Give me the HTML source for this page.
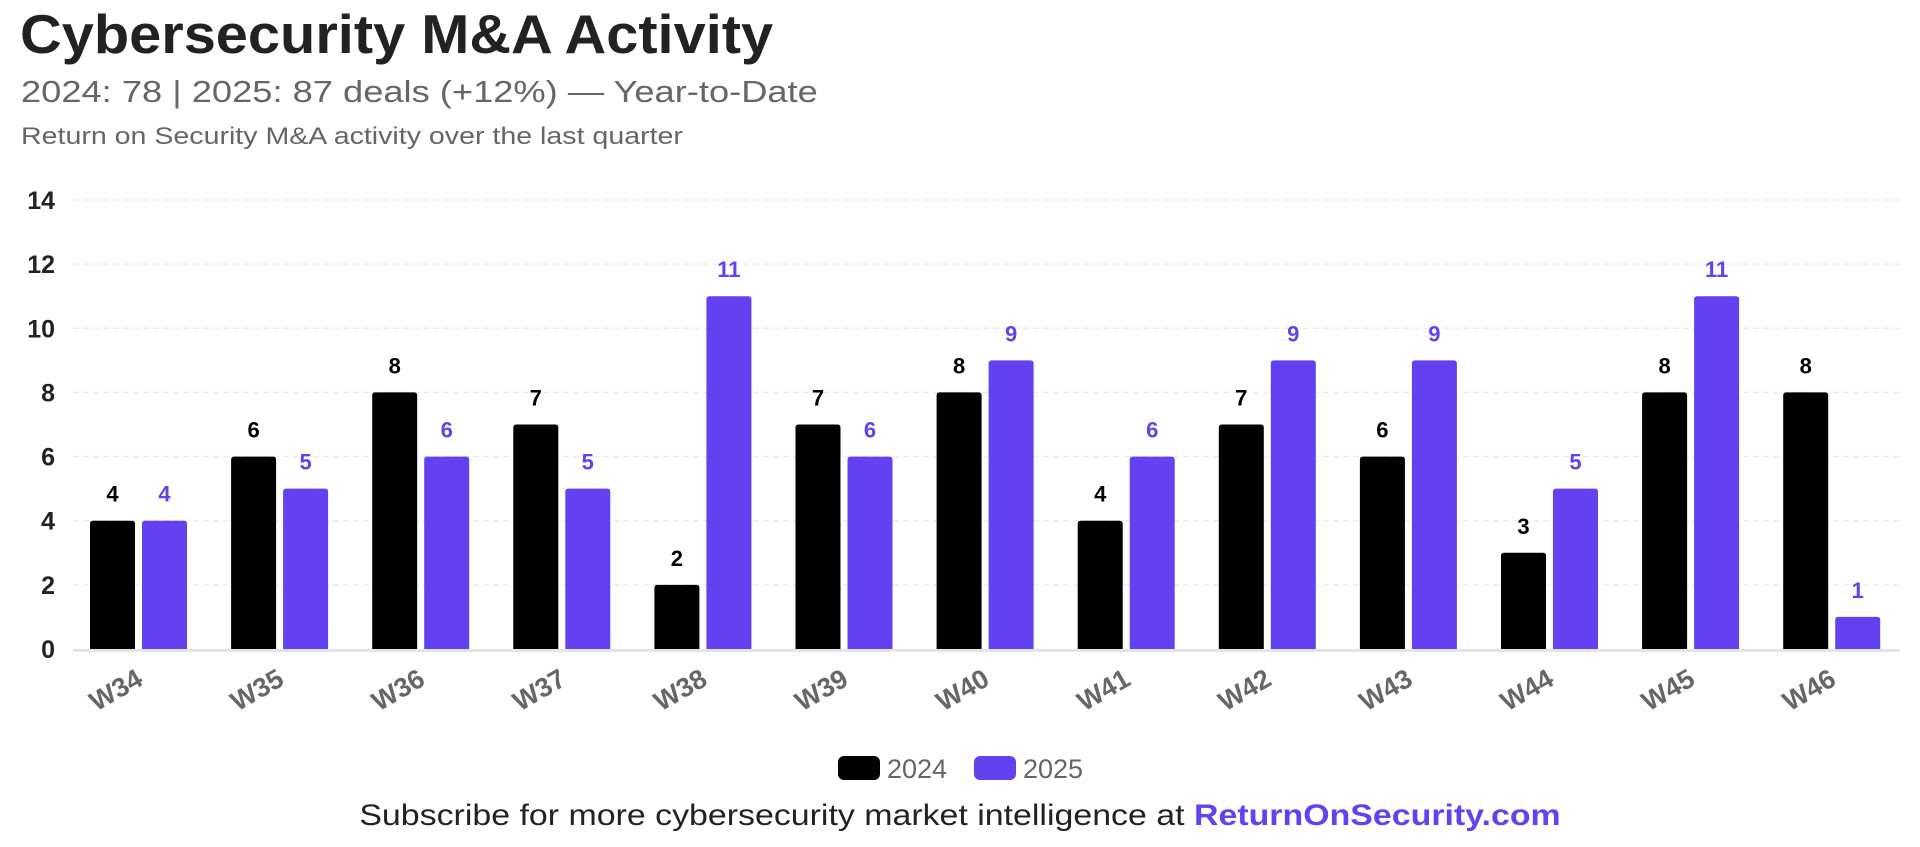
<!DOCTYPE html>
<html><head><meta charset="utf-8">
<style>
html,body{margin:0;padding:0;background:#fff;width:1920px;height:847px;overflow:hidden;font-family:"Liberation Sans",Arial,sans-serif}
.t{position:absolute;left:20px;top:2px;font-size:55px;font-weight:bold;color:#222;transform:scaleX(1.05);transform-origin:0 0;white-space:nowrap}
.s{position:absolute;left:21px;top:74px;font-size:31px;color:#666;transform:scaleX(1.17);transform-origin:0 0;white-space:nowrap}
.d{position:absolute;left:21px;top:123px;font-size:24px;color:#666;transform:scaleX(1.19);transform-origin:0 0;white-space:nowrap}
.f{position:absolute;left:0;width:1920px;top:799px;text-align:center;font-size:30px;color:#222;transform:scaleX(1.13);transform-origin:960px 0;white-space:nowrap}
.f b{color:#6341F0}
</style></head><body>
<div class="t">Cybersecurity M&amp;A Activity</div>
<div class="s">2024: 78 | 2025: 87 deals (+12%) — Year-to-Date</div>
<div class="d">Return on Security M&amp;A activity over the last quarter</div>
<svg id="c" width="1920" height="847" style="position:absolute;left:0;top:0"></svg>
<div class="f">Subscribe for more cybersecurity market intelligence at <b>ReturnOnSecurity.com</b></div>
<script>
const categories=["W34","W35","W36","W37","W38","W39","W40","W41","W42","W43","W44","W45","W46"];
const values2024=[4,6,8,7,2,7,8,4,7,6,3,8,8];
const values2025=[4,5,6,5,11,6,9,6,9,9,5,11,1];
const yTicks=[0,2,4,6,8,10,12,14];
const seriesNames=["2024","2025"];
const colors=["#000000","#6341F0"];
const NS="http://www.w3.org/2000/svg";
const svg=document.getElementById('c');
const y0=649,yTop=200,yMax=14,left=73,right=1900,x0=138.5,step=141.1,bw=45,gap=7;
function y(v){return y0-(v/yMax)*(y0-yTop);}
function xc(i){return x0+i*step;}
function mk(tag,attrs,txt){const e=document.createElementNS(NS,tag);for(const k in attrs)e.setAttribute(k,attrs[k]);if(txt!=null)e.textContent=txt;svg.appendChild(e);return e;}
yTicks.forEach(t=>{
  if(t>0){const g=mk('line',{x1:left,x2:right,y1:y(t),y2:y(t),stroke:'#ececec','stroke-width':1.5,'stroke-dasharray':'6 4'});
  
  }
  const l=mk('text',{x:55,y:y(t)+9,'text-anchor':'end','font-size':25,'font-weight':'bold',fill:'#222'},t);
  
  
});
const ax=mk('line',{x1:left,x2:right,y1:y0+1.5,y2:y0+1.5,stroke:'#e3e3ea','stroke-width':3});


[values2024,values2025].forEach((vals,s)=>{
  vals.forEach((v,i)=>{
    const bx=s===0?xc(i)-gap/2-bw:xc(i)+gap/2;
    const r=mk('path',{d:`M${bx},${y0} V${y(v)+3} Q${bx},${y(v)} ${bx+3},${y(v)} H${bx+bw-3} Q${bx+bw},${y(v)} ${bx+bw},${y(v)+3} V${y0} Z`,fill:colors[s]});
    
    
    const t=mk('text',{x:bx+bw/2,y:y(v)-19,'text-anchor':'middle','font-size':22,'font-weight':'bold',fill:colors[s]},v);
    
    
  });
});
categories.forEach((c,i)=>{
  const t=mk('text',{x:xc(i)+6,y:684,'text-anchor':'end','font-size':27,'font-weight':'bold',fill:'#666',transform:`rotate(-30 ${xc(i)+6} 684)`},c);
  
  
});
const lx=[838,974];
seriesNames.forEach((n,s)=>{
  const r=mk('rect',{x:lx[s],y:756,width:42,height:24,rx:6,fill:colors[s]});
  
  
  const t=mk('text',{x:lx[s]+49,y:778,'font-size':27,fill:'#666'},n);
  
  
});
</script>
</body></html>
